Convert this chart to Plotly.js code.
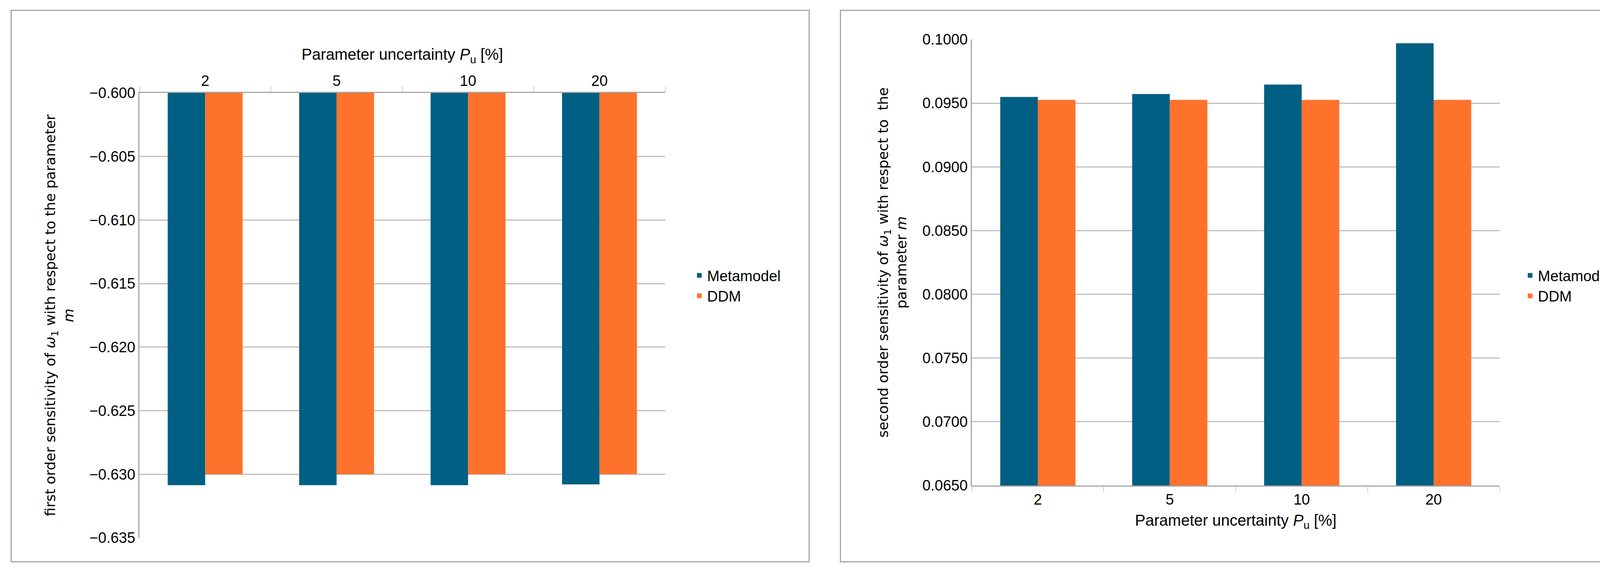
<!DOCTYPE html>
<html>
<head>
<meta charset="utf-8">
<script src="https://cdn.plot.ly/plotly-3.0.1.min.js"></script>
<style>
  html, body { margin: 0; padding: 0; overflow: hidden; }
  body { background: #fff; width: 4200px; height: 1462px; position: relative; }
  .panel { position: absolute; top: 25px; height: 1415px; border: 3px solid #a6a6a6; box-sizing: border-box; overflow: hidden; }
</style>
</head>
<body>
<div id="chart1" class="panel" style="left:27px; width:2046px;"></div>
<div id="chart2" class="panel" style="left:2150px; width:2043px;"></div>
<script>
// categories: parameter uncertainty Pu [%]
var categories = ["2", "5", "10", "20"];

// first order sensitivity
var firstMeta = [-0.63086, -0.63086, -0.63086, -0.63080];
var firstDDM = [-0.6300, -0.6300, -0.6300, -0.6300];

// second order sensitivity
var secondMeta = [0.09549, 0.09572, 0.09646, 0.09970];
var secondDDM = [0.09526, 0.09526, 0.09526, 0.09526];

var blue = "#005f83";
var orange = "#ff722c";
var narrow = "Liberation Sans Narrow, Liberation Sans, sans-serif";
var wide = "DejaVu Sans, sans-serif";
var xTitle = "Parameter uncertainty <i>P</i><sub>u</sub> [%]";

function traces(meta, ddm) {
  return [
    { x: categories, y: meta, name: "Metamodel", type: "bar", marker: { color: blue } },
    { x: categories, y: ddm, name: "DDM", type: "bar", marker: { color: orange } }
  ];
}

function baseLayout(w) {
  return {
    width: w - 6,
    height: 1409,
    autosize: false,
    plot_bgcolor: "#fff",
    paper_bgcolor: "#fff",
    barmode: "group",
    bargap: 0.43,
    bargroupgap: 0,
    showlegend: true,
    font: { family: narrow, size: 38, color: "#000" },
    legend: { xanchor: "left", yanchor: "middle", font: { family: narrow, size: 38 }, tracegroupgap: 20 }
  };
}

var layout1 = baseLayout(2046);
layout1.margin = { l: 327, r: 367, t: 210, b: 60 };
layout1.legend.x = 1.05;
layout1.legend.y = 0.567;
layout1.xaxis = {
  side: "top", type: "category", tickson: "boundaries", ticks: "outside", ticklen: 14,
  tickcolor: "#a6a6a6", showline: true, linecolor: "#a6a6a6", linewidth: 3,
  title: { text: xTitle, font: { family: narrow, size: 40 }, standoff: 20 }
};
layout1.yaxis = {
  range: [-0.635, -0.600], dtick: 0.005, tickformat: ".3f",
  gridcolor: "#bfbfbf", gridwidth: 3, zeroline: false,
  showline: true, linecolor: "#a6a6a6", linewidth: 3,
  title: { text: "first order sensitivity of <i>ω</i><sub>1</sub> with respect to the parameter<br><i>m</i>", font: { family: wide, size: 36 }, standoff: 30 }
};

var layout2 = baseLayout(2043);
layout2.margin = { l: 335, r: 351, t: 73, b: 194 };
layout2.legend.x = 1.043;
layout2.legend.y = 0.448;
layout2.xaxis = {
  type: "category", tickson: "boundaries", ticks: "outside", ticklen: 14,
  tickcolor: "#a6a6a6", showline: true, linecolor: "#a6a6a6", linewidth: 3,
  title: { text: xTitle, font: { family: narrow, size: 40 }, standoff: 20 }
};
layout2.yaxis = {
  range: [0.065, 0.100], dtick: 0.005, tickformat: ".4f",
  gridcolor: "#bfbfbf", gridwidth: 3, zeroline: false,
  showline: true, linecolor: "#a6a6a6", linewidth: 3,
  title: { text: "second order sensitivity of <i>ω</i><sub>1</sub> with respect to  the<br>parameter <i>m</i>", font: { family: wide, size: 36 }, standoff: 30 }
};

var config = { displayModeBar: false, staticPlot: true };
Plotly.newPlot("chart1", traces(firstMeta, firstDDM), layout1, config);
Plotly.newPlot("chart2", traces(secondMeta, secondDDM), layout2, config);
</script>
</body>
</html>
